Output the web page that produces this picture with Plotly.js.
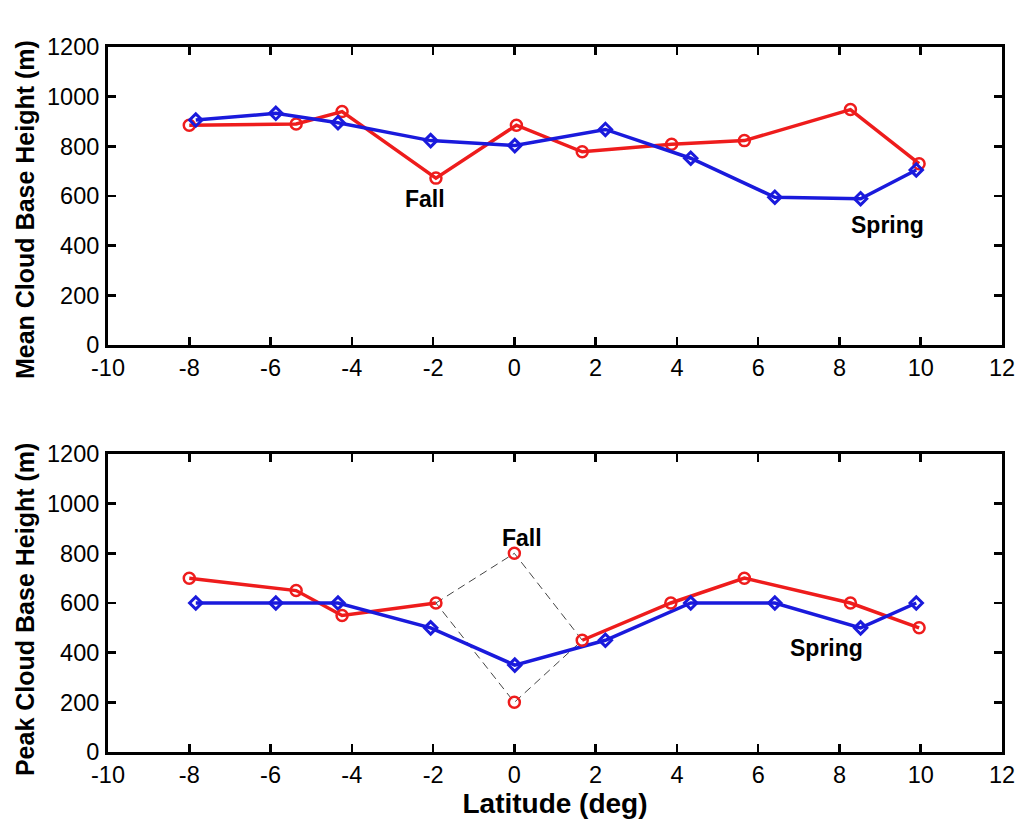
<!DOCTYPE html>
<html>
<head>
<meta charset="utf-8">
<script src="https://cdn.plot.ly/plotly-3.0.1.min.js"></script>
<style>html,body{margin:0;padding:0;background:#fff;}#chart{width:1021px;height:820px;}</style>
</head>
<body>
<div id="chart"></div>
<script>
// Mean cloud base height (top panel)
const meanFallLat = [-8.0, -5.37, -4.24, -1.93, 0.05, 1.67, 3.87, 5.66, 8.27, 9.96];
const meanFallVal = [885, 890, 940, 672, 885, 778, 808, 823, 948, 730];
const meanSpringLat = [-7.84, -5.87, -4.34, -2.06, 0.01, 2.24, 4.34, 6.41, 8.52, 9.89];
const meanSpringVal = [906, 933, 895, 823, 803, 868, 752, 595, 589, 705];

// Peak cloud base height (bottom panel); two Fall values at 0 deg
const peakFallLat = [-8.0, -5.37, -4.24, -1.93, 0.0, 0.0, 1.67, 3.85, 5.66, 8.27, 9.96];
const peakFallVal = [700, 650, 550, 600, 800, 200, 450, 600, 700, 600, 500];
const peakSpringLat = [-7.84, -5.87, -4.34, -2.06, 0.01, 2.24, 4.34, 6.41, 8.52, 9.89];
const peakSpringVal = [600, 600, 600, 500, 350, 450, 600, 600, 500, 600];

const xTicks = [-10, -8, -6, -4, -2, 0, 2, 4, 6, 8, 10, 12];
const yTicks = [0, 200, 400, 600, 800, 1000, 1200];

const RED = '#ee1c1c';
const BLUE = '#1a1adc';
const FONT = 'Liberation Sans, Arial, sans-serif';

// split peak fall into solid segments and the ambiguous diamond
const solidX = [], solidY = [];
peakFallLat.forEach((v, i) => {
  if (i === 4 || i === 5) { if (i === 4) { solidX.push(null); solidY.push(null); } return; }
  solidX.push(v); solidY.push(peakFallVal[i]);
});
const dIdx = [3, 4, 6, 5, 3];
const diaX = dIdx.map(i => peakFallLat[i]);
const diaY = dIdx.map(i => peakFallVal[i]);

const redMarker = {symbol: 'circle-open', size: 11, color: RED, line: {width: 2.5, color: RED}};
const blueMarker = {symbol: 'diamond-open', size: 9.5, color: BLUE, line: {width: 3, color: BLUE}};

const traces = [
  {x: meanFallLat, y: meanFallVal, mode: 'lines+markers', line: {color: RED, width: 3.5}, marker: redMarker, xaxis: 'x', yaxis: 'y'},
  {x: meanSpringLat, y: meanSpringVal, mode: 'lines+markers', line: {color: BLUE, width: 3.5}, marker: blueMarker, xaxis: 'x', yaxis: 'y'},
  {x: diaX, y: diaY, mode: 'lines', line: {color: '#444', width: 1, dash: '8px,5px'}, xaxis: 'x2', yaxis: 'y2'},
  {x: solidX, y: solidY, mode: 'lines', line: {color: RED, width: 3.5}, connectgaps: false, xaxis: 'x2', yaxis: 'y2'},
  {x: peakSpringLat, y: peakSpringVal, mode: 'lines+markers', line: {color: BLUE, width: 3.5}, marker: blueMarker, xaxis: 'x2', yaxis: 'y2'},
  {x: peakFallLat, y: peakFallVal, mode: 'markers', marker: redMarker, xaxis: 'x2', yaxis: 'y2'}
];

const axBase = {
  showline: true, linecolor: '#000', linewidth: 3, mirror: 'ticks',
  ticks: 'inside', ticklen: 8, tickwidth: 2.5, tickcolor: '#000',
  showgrid: false, zeroline: false,
  tickfont: {family: FONT, size: 23.5, color: '#000'}
};
const xAx = (anchor) => Object.assign({}, axBase, {range: [-10, 12], tickvals: xTicks, ticktext: xTicks.map(String), anchor: anchor, ticklabelstandoff: 0});
const yAx = (anchor, domain) => Object.assign({}, axBase, {range: [0, 1200], tickvals: yTicks, ticktext: yTicks.map(String), anchor: anchor, domain: domain, ticklabelstandoff: 1});

const titleFont = {family: FONT, size: 25, color: '#000', weight: 'bold'};
const labelFont = {family: FONT, size: 23, color: '#000', weight: 'bold'};

const layout = {
  width: 1021, height: 820,
  margin: {l: 108, r: 19, t: 47, b: 68},
  paper_bgcolor: '#fff', plot_bgcolor: '#fff',
  showlegend: false,
  xaxis: xAx('y'),
  yaxis: yAx('x', [0.5773, 1]),
  xaxis2: Object.assign(xAx('y2'), {title: {text: 'Latitude (deg)', font: {family: FONT, size: 28, color: '#000', weight: 'bold'}, standoff: 0}}),
  yaxis2: yAx('x2', [0, 0.4227]),
  annotations: [
    {x: -0.0928, y: 0.7688, xref: 'paper', yref: 'paper', text: 'Mean Cloud Base Height (m)', textangle: -90, showarrow: false, xanchor: 'center', yanchor: 'middle', font: titleFont},
    {x: -0.0928, y: 0.2014, xref: 'paper', yref: 'paper', text: 'Peak Cloud Base Height (m)', textangle: -90, showarrow: false, xanchor: 'center', yanchor: 'middle', font: titleFont},
    {x: -2.2, y: 588, xref: 'x', yref: 'y', text: 'Fall', showarrow: false, font: labelFont},
    {x: 9.19, y: 483, xref: 'x', yref: 'y', text: 'Spring', showarrow: false, font: labelFont},
    {x: 0.18, y: 861, xref: 'x2', yref: 'y2', text: 'Fall', showarrow: false, font: labelFont},
    {x: 7.68, y: 418, xref: 'x2', yref: 'y2', text: 'Spring', showarrow: false, font: labelFont}
  ]
};

Plotly.newPlot('chart', traces, layout, {staticPlot: true, displayModeBar: false});
</script>
</body>
</html>
